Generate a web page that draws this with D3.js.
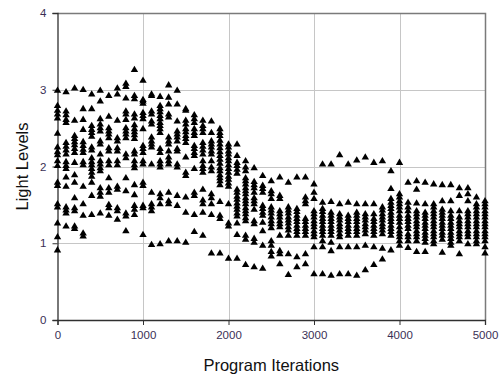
<!DOCTYPE html>
<html>
<head>
<meta charset="utf-8">
<script src="https://cdn.jsdelivr.net/npm/d3@7"></script>
<style>
  html, body { margin: 0; padding: 0; background: #fff; }
  svg { display: block; font-family: Arial, "Liberation Sans", sans-serif; }
</style>
</head>
<body>
<svg id="chart" width="500" height="379"></svg>
<script>
// Sampling points along the run
const iterations = [0, 100, 200, 300, 400, 500, 600, 700, 800, 900,
  1000, 1100, 1200, 1300, 1400, 1500, 1600, 1700, 1800, 1900,
  2000, 2100, 2200, 2300, 2400, 2500, 2600, 2700, 2800, 2900,
  3000, 3100, 3200, 3300, 3400, 3500, 3600, 3700, 3800, 3900,
  4000, 4100, 4200, 4300, 4400, 4500, 4600, 4700, 4800, 4900, 5000];

// Light level readings recorded at each sampling point
const lightLevels = [
  [3.0, 2.8, 2.74, 2.69, 2.64, 2.44, 2.26, 2.2, 2.16, 2.08, 2.02, 1.8, 1.76, 1.52, 1.48, 1.27, 1.09, 0.92],
  [2.98, 2.73, 2.68, 2.62, 2.58, 2.32, 2.27, 2.22, 2.17, 2.07, 2.02, 1.98, 1.87, 1.75, 1.48, 1.44, 1.4, 1.23],
  [3.03, 2.61, 2.41, 2.37, 2.33, 2.29, 2.24, 2.19, 2.06, 1.9, 1.8, 1.6, 1.47, 1.43, 1.23, 1.2],
  [3.01, 2.76, 2.62, 2.49, 2.33, 2.28, 2.23, 2.19, 2.07, 2.03, 1.75, 1.52, 1.37, 1.14, 1.1],
  [2.95, 2.76, 2.54, 2.49, 2.45, 2.4, 2.26, 2.22, 2.12, 2.07, 2.03, 1.98, 1.93, 1.88, 1.8, 1.63, 1.38],
  [3.0, 2.86, 2.63, 2.56, 2.51, 2.47, 2.34, 2.3, 2.17, 2.08, 2.04, 1.99, 1.95, 1.73, 1.67, 1.62, 1.4],
  [2.93, 2.66, 2.51, 2.47, 2.43, 2.38, 2.25, 2.21, 2.08, 2.03, 1.86, 1.73, 1.67, 1.51, 1.47, 1.37],
  [3.03, 2.95, 2.61, 2.38, 2.34, 2.25, 2.21, 2.08, 2.03, 1.75, 1.71, 1.47, 1.43, 1.32],
  [3.09, 3.05, 2.9, 2.73, 2.69, 2.62, 2.51, 2.47, 2.43, 2.38, 2.17, 2.12, 1.86, 1.69, 1.4, 1.36, 1.17],
  [3.27, 2.93, 2.89, 2.69, 2.64, 2.55, 2.5, 2.46, 2.42, 2.37, 2.21, 2.17, 2.08, 2.03, 1.99, 1.77, 1.64, 1.5, 1.45, 1.38],
  [3.13, 2.88, 2.86, 2.83, 2.71, 2.67, 2.63, 2.5, 2.28, 2.24, 2.19, 2.08, 2.04, 1.8, 1.76, 1.5, 1.47, 1.12],
  [2.95, 2.93, 2.73, 2.69, 2.6, 2.56, 2.39, 2.34, 2.3, 2.26, 2.04, 1.67, 1.52, 1.48, 1.43, 0.99],
  [2.92, 2.8, 2.76, 2.72, 2.67, 2.63, 2.58, 2.54, 2.5, 2.45, 2.24, 2.19, 2.08, 2.04, 2.0, 1.65, 1.6, 1.52, 1.0],
  [3.07, 2.91, 2.82, 2.69, 2.65, 2.39, 2.34, 2.3, 2.21, 2.13, 2.08, 2.04, 1.67, 1.56, 1.52, 1.04],
  [3.0, 2.82, 2.6, 2.47, 2.43, 2.39, 2.34, 2.24, 2.21, 2.04, 2.0, 1.63, 1.5, 1.04],
  [2.76, 2.74, 2.61, 2.56, 2.5, 2.46, 2.41, 2.37, 2.32, 2.13, 1.93, 1.89, 1.61, 1.41, 1.02],
  [2.68, 2.63, 2.58, 2.5, 2.45, 2.41, 2.28, 2.24, 2.19, 2.15, 1.98, 1.67, 1.63, 1.38, 1.16],
  [2.61, 2.54, 2.5, 2.45, 2.32, 2.27, 2.22, 2.17, 2.08, 2.02, 1.98, 1.93, 1.71, 1.57, 1.52, 1.41, 1.11],
  [2.6, 2.45, 2.34, 2.3, 2.26, 2.21, 2.17, 2.08, 2.0, 1.95, 1.65, 1.6, 1.52, 1.38, 0.88],
  [2.5, 2.45, 2.41, 2.35, 2.3, 2.25, 2.2, 2.15, 2.1, 2.05, 1.99, 1.95, 1.9, 1.86, 1.82, 1.77, 1.55, 1.37, 1.33, 0.88],
  [2.3, 2.26, 2.21, 2.17, 2.12, 2.08, 2.03, 1.98, 1.93, 1.88, 1.84, 1.79, 1.75, 1.52, 1.27, 1.23, 0.81],
  [2.3, 2.15, 2.06, 2.02, 1.97, 1.92, 1.71, 1.67, 1.62, 1.58, 1.53, 1.49, 1.45, 1.4, 1.36, 1.27, 1.12, 0.81],
  [2.08, 2.0, 1.95, 1.86, 1.82, 1.78, 1.73, 1.69, 1.65, 1.6, 1.56, 1.52, 1.47, 1.43, 1.39, 1.34, 1.3, 1.11, 1.06, 0.73],
  [1.99, 1.81, 1.77, 1.73, 1.67, 1.6, 1.56, 1.52, 1.45, 1.3, 1.26, 1.07, 1.02, 0.7],
  [1.89, 1.76, 1.72, 1.67, 1.5, 1.46, 1.41, 1.37, 1.28, 1.17, 0.98, 0.68],
  [1.82, 1.69, 1.65, 1.59, 1.48, 1.44, 1.4, 1.35, 1.3, 1.26, 1.21, 1.04, 0.98, 0.9, 0.84],
  [1.87, 1.63, 1.59, 1.43, 1.39, 1.35, 1.3, 1.26, 1.22, 1.11, 0.91, 0.87, 0.74],
  [1.8, 1.48, 1.44, 1.4, 1.35, 1.31, 1.27, 1.22, 1.18, 1.11, 0.87, 0.6],
  [1.87, 1.46, 1.42, 1.37, 1.33, 1.29, 1.24, 1.2, 1.16, 1.11, 0.83, 0.7],
  [1.87, 1.61, 1.56, 1.52, 1.33, 1.29, 1.24, 1.2, 1.16, 1.11, 0.87, 0.74],
  [1.78, 1.67, 1.59, 1.43, 1.39, 1.35, 1.3, 1.26, 1.22, 1.17, 1.13, 1.09, 0.96, 0.61],
  [2.04, 1.54, 1.46, 1.42, 1.37, 1.33, 1.29, 1.24, 1.2, 1.16, 1.11, 1.04, 0.96, 0.61],
  [2.04, 1.55, 1.41, 1.37, 1.33, 1.29, 1.24, 1.2, 1.16, 1.11, 1.02, 0.91, 0.59],
  [2.16, 1.52, 1.39, 1.35, 1.31, 1.26, 1.22, 1.18, 1.13, 1.09, 0.96, 0.61],
  [2.04, 1.54, 1.37, 1.33, 1.29, 1.24, 1.2, 1.16, 1.11, 0.96, 0.61],
  [2.09, 1.52, 1.41, 1.37, 1.33, 1.29, 1.24, 1.2, 1.16, 1.11, 0.96, 0.59],
  [2.13, 1.52, 1.39, 1.35, 1.31, 1.26, 1.22, 1.18, 1.13, 0.98, 0.66],
  [2.06, 1.52, 1.39, 1.33, 1.29, 1.24, 1.2, 1.16, 1.11, 0.96, 0.73],
  [2.08, 1.48, 1.44, 1.39, 1.35, 1.31, 1.26, 1.22, 1.18, 1.13, 0.94, 0.8],
  [1.95, 1.72, 1.59, 1.54, 1.5, 1.46, 1.41, 1.37, 1.33, 1.29, 1.24, 1.2, 1.16, 1.11, 0.92],
  [2.06, 1.65, 1.61, 1.56, 1.52, 1.48, 1.43, 1.37, 1.33, 1.28, 1.22, 1.17, 1.13, 1.09, 1.04, 0.98],
  [1.8, 1.54, 1.48, 1.43, 1.37, 1.33, 1.29, 1.24, 1.2, 1.13, 1.09, 1.04, 0.95],
  [1.82, 1.71, 1.53, 1.43, 1.39, 1.35, 1.3, 1.26, 1.22, 1.17, 1.13, 1.09, 1.04, 0.9],
  [1.8, 1.52, 1.41, 1.37, 1.33, 1.28, 1.24, 1.2, 1.15, 1.11, 1.07, 1.02, 0.9],
  [1.78, 1.52, 1.48, 1.43, 1.39, 1.35, 1.3, 1.26, 1.22, 1.17, 1.13, 1.09, 1.04, 1.0],
  [1.77, 1.56, 1.45, 1.41, 1.37, 1.33, 1.28, 1.24, 1.2, 1.15, 1.11, 1.06, 0.89],
  [1.77, 1.56, 1.43, 1.37, 1.33, 1.28, 1.24, 1.2, 1.15, 1.11, 1.07, 1.02, 0.98],
  [1.73, 1.63, 1.43, 1.35, 1.3, 1.26, 1.22, 1.17, 1.13, 1.09, 1.04, 0.87],
  [1.73, 1.65, 1.56, 1.43, 1.39, 1.35, 1.3, 1.26, 1.22, 1.17, 1.13, 1.09, 1.0],
  [1.61, 1.52, 1.48, 1.43, 1.39, 1.35, 1.3, 1.26, 1.22, 1.17, 1.13, 1.09, 1.04, 1.0],
  [1.56, 1.52, 1.48, 1.43, 1.39, 1.35, 1.3, 1.26, 1.22, 1.17, 1.13, 1.09, 1.04, 0.96, 0.88]
];

const xTicks = [0, 1000, 2000, 3000, 4000, 5000];
const yTicks = [0, 1, 2, 3, 4];
const xTitle = "Program Iterations";
const yTitle = "Light Levels";

const plot = { left: 57.5, right: 485, top: 13, bottom: 320 };

const svg = d3.select("#chart");

const x = d3.scaleLinear().domain([0, 5000]).range([plot.left, plot.right]);
const y = d3.scaleLinear().domain([0, 4]).range([plot.bottom, plot.top]);

// Gridlines
const grid = svg.append("g").attr("class", "grid");
grid.selectAll("line.gx").data(xTicks.slice(1, -1)).join("line")
  .attr("x1", d => Math.round(x(d)) + 0.5).attr("x2", d => Math.round(x(d)) + 0.5)
  .attr("y1", plot.top).attr("y2", plot.bottom)
  .attr("stroke", "#c6c6c6").attr("stroke-width", 1);
grid.selectAll("line.gy").data(yTicks.slice(1, -1)).join("line")
  .attr("x1", plot.left).attr("x2", plot.right)
  .attr("y1", d => Math.round(y(d)) + 0.5).attr("y2", d => Math.round(y(d)) + 0.5)
  .attr("stroke", "#c6c6c6").attr("stroke-width", 1);

// Plot frame: top and right edges
svg.append("path")
  .attr("d", `M${plot.left},${plot.top + 0.5}H${plot.right + 0.5}V${plot.bottom}`)
  .attr("fill", "none").attr("stroke", "#7a7a7a").attr("stroke-width", 1.5);

// Axes
const xAxis = d3.axisBottom(x).tickValues(xTicks).tickSize(5).tickPadding(6).tickFormat(d3.format("d"));
const yAxis = d3.axisLeft(y).tickValues(yTicks).tickSize(5).tickPadding(6).tickFormat(d3.format("d"));

const gx = svg.append("g").attr("transform", `translate(0,${plot.bottom})`).call(xAxis);
const gy = svg.append("g").attr("transform", `translate(${plot.left},0)`).call(yAxis);

[gx, gy].forEach(g => {
  g.select(".domain").attr("stroke", "#303030").attr("stroke-width", 1.3);
  g.selectAll(".tick line").attr("stroke", "#303030");
  g.selectAll(".tick text")
    .attr("fill", "#3a2f55")
    .style("font-family", "Arial, 'Liberation Sans', sans-serif")
    .style("font-size", "11.5px");
});

// Triangle markers
const points = [];
iterations.forEach((it, i) => {
  lightLevels[i].forEach(v => points.push({ it, v }));
});

const tri = (cx, cy) => `M${cx},${cy - 3.3}L${cx + 3.7},${cy + 3}L${cx - 3.7},${cy + 3}Z`;

svg.append("g").attr("class", "points")
  .selectAll("path").data(points).join("path")
  .attr("d", d => tri(x(d.it), y(d.v)))
  .attr("fill", "#000");

// Axis titles
svg.append("text")
  .attr("x", (plot.left + plot.right) / 2)
  .attr("y", 371)
  .attr("text-anchor", "middle")
  .style("font-size", "16.5px")
  .attr("fill", "#111")
  .text(xTitle);

svg.append("text")
  .attr("transform", `translate(28,${(plot.top + plot.bottom) / 2}) rotate(-90)`)
  .attr("text-anchor", "middle")
  .style("font-size", "16.5px")
  .attr("fill", "#111")
  .text(yTitle);
</script>
</body>
</html>
